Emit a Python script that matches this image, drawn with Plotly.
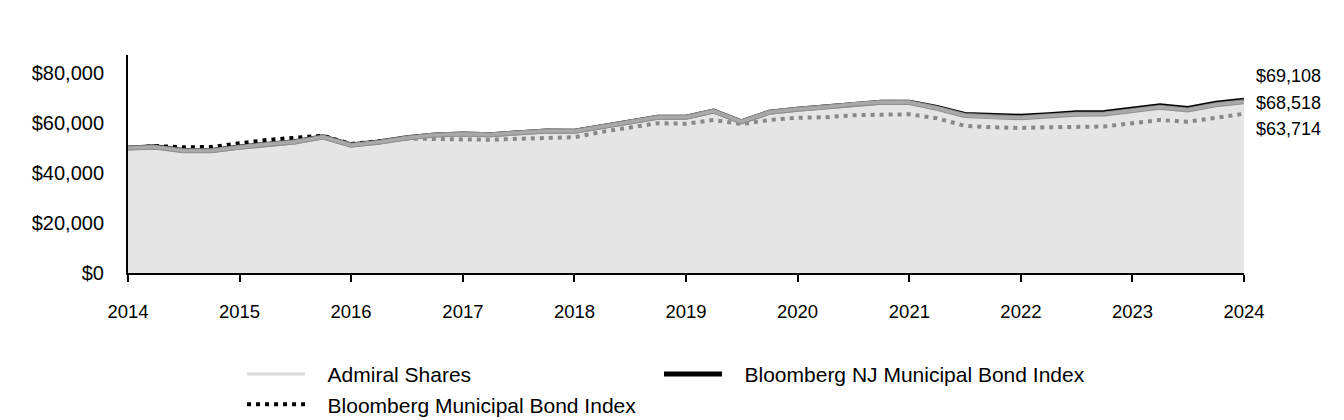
import pandas as pd
from plotly import graph_objects as go

# quarterly growth of a $50,000 investment
dates = pd.date_range("2014-01-01", "2024-01-01", freq="QS")

admiral = [50000, 50300, 48900, 48900, 50300, 51500, 52400, 54400,
           51100, 52300, 54000, 55200, 55600, 55300, 56100, 56800,
           56700, 58500, 60400, 62300, 62300, 64800, 60500, 64300,
           65500, 66300, 67600, 68300, 68200, 65900, 63000, 62300,
           62100, 62800, 63500, 63600, 64900, 66300, 65200, 67300,
           68518]
nj_index = [50000, 50500, 49000, 49000, 50400, 51600, 52500, 54500,
            51200, 52400, 54100, 55200, 55600, 55300, 56100, 56800,
            56700, 58500, 60400, 62300, 62300, 64800, 60500, 64300,
            65500, 66300, 67600, 68300, 68300, 66200, 63400, 62800,
            62700, 63300, 64100, 64200, 65500, 66900, 65800, 67900,
            69108]
muni_index = [50000, 50800, 50300, 50400, 51900, 53200, 54100, 54900,
              51600, 52700, 53800, 53600, 53500, 53300, 53700, 54100,
              54300, 56500, 58100, 59900, 59700, 61200, 59600, 61200,
              62100, 62300, 63100, 63500, 63500, 61900, 58900, 58300,
              58000, 58300, 58600, 58600, 59900, 61200, 60500, 62300,
              63714]

y_ticks = [0, 20000, 40000, 60000, 80000]
end_values = [nj_index[-1], admiral[-1], muni_index[-1]]

font = "Liberation Sans, Arial, sans-serif"
pad = "\u00a0\u00a0\u00a0"

fig = go.Figure()
fig.add_trace(go.Scatter(x=dates, y=nj_index, mode="lines",
                         name=pad + "Bloomberg NJ Municipal Bond Index",
                         line=dict(color="black", width=5),
                         legend="legend2"))
fig.add_trace(go.Scatter(x=dates, y=muni_index, mode="lines",
                         name=pad + "Bloomberg Municipal Bond Index",
                         line=dict(color="black", width=4, dash="4px,5px"),
                         legendrank=3))
# admiral area with a gray outline, then a lighter centre stroke
fig.add_trace(go.Scatter(x=dates, y=admiral, mode="lines", fill="tozeroy",
                         fillcolor="rgba(214,214,214,0.635)",
                         line=dict(color="#909090", width=5),
                         showlegend=False, hoverinfo="skip"))
fig.add_trace(go.Scatter(x=dates, y=admiral, mode="lines",
                         name=pad + "Admiral Shares",
                         line=dict(color="rgba(190,190,190,0.55)", width=3),
                         legendrank=1))

# stacked end labels to the right of the plot
for i, v in enumerate(end_values):
    fig.add_annotation(xref="paper", yref="paper", x=1, y=0.902 - i * 0.12,
                       xshift=10, xanchor="left", yanchor="middle",
                       text=f"${v:,}", showarrow=False,
                       font=dict(size=18, color="black", family=font))

fig.update_xaxes(range=[dates[0], dates[-1]], dtick="M12", tickformat="%Y",
                 ticks="outside", ticklen=7, tickwidth=2, tickcolor="black",
                 showline=True, linecolor="black", linewidth=2,
                 showgrid=False, zeroline=False, layer="below traces",
                 tickfont=dict(size=18.5), ticklabelstandoff=14,
                 automargin=False)
fig.update_yaxes(range=[0, 87200], tickvals=y_ticks,
                 ticktext=[f"${v:,}" for v in y_ticks],
                 showline=True, linecolor="black", linewidth=2,
                 showgrid=False, zeroline=False, layer="below traces",
                 tickfont=dict(size=20), ticklabelstandoff=18,
                 automargin=False)

legend_style = dict(orientation="v", y=-0.371, xanchor="left", yanchor="top",
                    itemwidth=58, font=dict(size=21), tracegroupgap=0,
                    bgcolor="rgba(0,0,0,0)")

# page body adds 8px around the figure, so the figure is 8px smaller
fig.update_layout(
    width=1336, height=412,
    margin=dict(l=120, r=100, t=47, b=147, autoexpand=False),
    plot_bgcolor="white", paper_bgcolor="white",
    font=dict(family=font, size=18, color="black"),
    showlegend=True,
    legend=dict(x=0.1022, **legend_style),
    legend2=dict(x=0.4758, **legend_style),
)

fig.write_html("out.html")
